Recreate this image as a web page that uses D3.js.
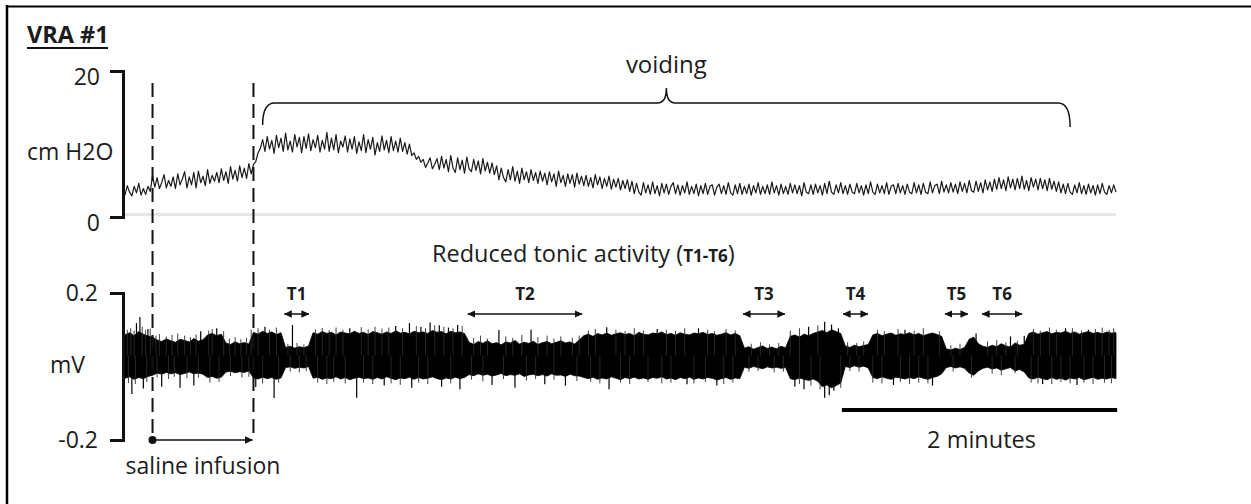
<!DOCTYPE html>
<html><head><meta charset="utf-8">
<script src="https://cdn.jsdelivr.net/npm/d3@7"></script>
<style>
html,body{margin:0;padding:0;background:#fff;}
svg{display:block;}
text{font-family:"Open Sans",sans-serif;fill:#1c1c1c;}
</style></head><body>
<svg id="chart" width="1251" height="504"></svg>
<script>
// ---------------- data ----------------
const pressureStep = 1; // seconds between pressure samples
const emgStep = 2;      // seconds between EMG envelope samples

// bladder pressure, cm H2O, one value per second (t = 0..432 s)
const pressureCmH2O = [
3.0, 4.3, 3.4, 2.9, 4.2, 3.3, 4.6, 3.0, 3.9, 3.1, 4.2, 3.5, 5.6, 4.1, 5.4, 3.9, 4.7, 5.8, 4.0, 5.0,
4.2, 5.5, 3.9, 5.9, 4.4, 5.2, 6.2, 4.0, 5.5, 4.4, 6.1, 4.0, 6.3, 4.7, 5.6, 4.3, 6.5, 4.6, 5.7, 4.9,
6.1, 4.7, 6.6, 5.0, 6.2, 4.6, 6.9, 5.2, 6.4, 4.9, 7.0, 5.4, 6.7, 5.3, 7.3, 5.9, 7.2, 7.6, 8.8, 9.4,
10.6, 9.0, 11.0, 9.3, 10.5, 8.7, 11.2, 9.5, 10.8, 9.0, 11.5, 9.2, 10.4, 8.9, 11.3, 9.6, 10.9, 8.8, 11.0, 9.4,
11.4, 9.1, 10.6, 9.5, 11.2, 8.9, 10.5, 9.3, 11.6, 9.0, 10.8, 9.2, 11.3, 8.8, 10.4, 9.6, 11.1, 8.9, 10.7, 9.3,
11.0, 8.7, 10.3, 9.1, 11.3, 8.8, 10.6, 9.3, 10.9, 8.5, 10.2, 9.0, 11.1, 9.2, 10.5, 8.8, 11.0, 9.1, 10.4, 8.9,
10.8, 9.0, 10.2, 8.6, 10.0, 8.4, 8.8, 7.9, 8.3, 7.5, 7.9, 6.8, 7.4, 8.1, 6.6, 7.2, 8.0, 6.5, 8.3, 6.7,
7.9, 6.2, 8.4, 6.7, 6.1, 8.1, 6.5, 7.8, 6.0, 8.2, 6.6, 6.2, 7.9, 6.4, 7.7, 5.9, 8.0, 6.3, 7.5, 6.0,
7.4, 5.8, 7.0, 5.1, 6.7, 5.4, 4.8, 6.5, 5.1, 6.9, 4.9, 6.3, 4.6, 6.7, 5.1, 6.2, 4.7, 6.5, 5.0, 6.1,
4.6, 6.3, 4.9, 6.0, 4.4, 6.2, 4.8, 5.9, 4.2, 6.3, 4.7, 5.7, 4.2, 5.9, 4.6, 5.8, 4.1, 6.0, 4.5, 5.6,
4.3, 5.7, 4.2, 5.4, 4.0, 5.8, 4.4, 5.5, 3.9, 5.3, 4.2, 5.6, 3.8, 5.2, 4.1, 5.3, 3.7, 5.0, 3.9, 5.1,
3.5, 4.9, 3.2, 4.6, 3.4, 3.0, 4.7, 3.3, 4.4, 3.1, 4.8, 3.2, 4.3, 2.9, 4.6, 3.3, 4.5, 3.1, 4.2, 4.7,
3.2, 4.4, 3.0, 4.3, 3.3, 4.8, 3.1, 4.2, 3.2, 4.5, 2.9, 4.3, 3.2, 4.6, 3.1, 4.2, 4.4, 3.0, 4.1, 4.5,
3.2, 4.3, 3.1, 4.7, 3.3, 3.0, 4.4, 3.2, 4.6, 3.1, 4.2, 3.2, 4.5, 3.0, 4.3, 3.3, 4.7, 3.1, 4.2, 3.2,
4.4, 3.1, 4.8, 3.3, 4.3, 3.0, 4.5, 3.2, 4.2, 3.1, 4.6, 3.3, 4.4, 3.2, 4.3, 2.9, 4.7, 3.4, 3.2, 4.4,
3.1, 4.5, 3.3, 4.3, 3.0, 4.6, 3.2, 4.9, 3.4, 3.1, 4.4, 3.3, 4.7, 3.2, 4.3, 3.1, 4.5, 3.4, 3.2, 4.6,
3.3, 4.3, 3.0, 4.4, 3.2, 4.8, 3.4, 3.1, 4.5, 3.3, 4.3, 3.2, 4.7, 3.1, 4.2, 4.4, 3.2, 4.6, 3.3, 4.3,
3.1, 4.5, 3.4, 3.2, 4.7, 3.3, 4.4, 3.1, 4.6, 3.4, 3.2, 4.8, 3.3, 4.3, 4.5, 3.2, 4.9, 3.4, 4.4, 3.3,
4.7, 3.4, 4.5, 3.2, 4.8, 3.5, 4.6, 3.3, 5.0, 3.6, 3.4, 4.9, 3.5, 4.7, 3.3, 5.1, 3.7, 4.8, 3.5, 5.2,
3.8, 5.4, 3.9, 5.1, 3.6, 5.5, 4.0, 5.2, 3.7, 5.3, 3.9, 5.6, 3.8, 5.0, 3.6, 5.4, 4.1, 5.2, 3.7, 5.3,
3.9, 5.1, 3.6, 5.3, 3.8, 4.9, 3.5, 4.8, 3.3, 4.5, 3.2, 4.6, 3.4, 3.1, 4.4, 3.3, 4.7, 3.2, 4.3, 3.1,
4.5, 3.3, 4.3, 3.0, 4.4, 3.2, 4.6, 3.4, 3.1, 4.3, 3.3, 4.4, 3.4
];

// EMG envelope, microvolts, one value every 2 s
const emgUpperUV = [
86, 92, 84, 95, 88, 83, 80,
72, 68, 75, 70, 66, 74, 71, 67, 76, 69, 73,
86, 90, 84, 88,
64, 60, 67, 62, 65, 61,
93, 88, 96, 90, 94, 87, 92,
52, 55, 50, 54, 51, 56,
92, 88, 95, 90, 93, 86, 94, 91, 89, 96, 90, 93, 87, 95, 92, 88, 94, 90, 97, 91, 93, 89, 96, 92, 94, 90, 98, 93, 95, 89, 96, 92, 94, 90,
66, 60, 68, 63, 70, 62, 65, 59, 67, 64, 71, 61, 66, 63, 69, 60, 65, 68, 62, 66, 70, 64, 67, 61, 72,
84, 88, 82, 90, 86, 91, 85, 89, 92, 87, 90, 84, 93, 88, 86, 91, 89, 94, 87, 90, 85, 92, 88, 86, 91, 89, 93, 87, 90, 85, 88, 92, 86, 90, 84,
50, 54, 47, 52, 56, 49, 53, 48, 55, 51,
82, 86, 80, 88, 84, 90, 94,
98, 92, 100, 95, 90,
56, 52, 58, 54, 57, 60,
86, 90, 84, 88, 91, 85, 89, 87, 92, 86, 90, 84, 88, 91, 87, 82,
48, 45, 50, 46, 52,
74, 80, 62,
55, 52, 58, 54, 62, 56, 53, 64, 58, 60,
90, 94, 88, 92, 95, 89, 93, 91, 96, 90, 94, 88, 92, 95, 90, 93, 89, 94, 91, 92
];
const emgLowerUV = [
-32, -28, -35, -30, -33, -27, -24,
-18, -21, -16, -20, -17, -22, -19, -15, -20, -18, -21,
-30, -27, -32, -29,
-15, -13, -17, -14, -16, -12,
-31, -34, -29, -33, -30, -35, -31,
-3, -1, -5, -2, -4, 0,
-32, -29, -35, -31, -33, -28, -34, -30, -36, -32, -29, -33, -31, -35, -30, -34, -28, -32, -36, -31, -33, -29, -35, -30, -34, -32, -28, -33, -36, -31, -34, -29, -33, -30,
-22, -25, -20, -24, -21, -26, -23, -19, -25, -22, -24, -20, -27, -23, -21, -25, -22, -26, -20, -24, -23, -27, -21, -25, -26,
-30, -33, -29, -35, -31, -34, -28, -32, -36, -30, -33, -29, -34, -31, -35, -30, -32, -28, -34, -31, -36, -30, -33, -29, -35, -31, -34, -30, -32, -37, -33, -30, -35, -31, -33,
-2, -5, 0, -3, -6, -1, -4, -2, -5, -3,
-33, -36, -31, -35, -38, -34, -40,
-55, -50, -58, -52, -45,
0, -3, 2, -2, 1, -4,
-30, -33, -28, -32, -35, -29, -31, -34, -30, -33, -28, -32, -35, -30, -27, -20,
-3, 0, -4, -1, -5,
-18, -24, -12,
-5, -2, -7, -4, -10, -6, -3, -12, -8, -15,
-31, -34, -29, -33, -36, -30, -35, -32, -37, -31, -34, -30, -36, -33, -29, -35, -32, -34, -30, -33
];
// large isolated EMG spikes: [time s, peak microvolts]
const emgSpikes = [
[5,118],[6.5,135],[10,102],[33,96],[40,104],[61,108],[73,113],[98,104],[118,110],[124,118],
[129,108],[133,120],[137,112],[141,106],[145,113],[163,99],[177,100],[210,107],[232,102],[250,104],
[298,108],[305,122],[308,114],[311,104],[340,100],[371,90],[386,82],[392,84],[410,104],[420,100],
[3,-75],[8,-60],[16,-55],[24,-58],[30,-52],[57,-56],[65,-86],[101,-85],[113,-52],[125,-58],
[138,-55],[146,-62],[160,-50],[170,-58],[183,-48],[192,-52],[211,-62],[245,-48],[258,-52],[292,-55],
[296,-62],[305,-85],[307,-78],[309,-66],[335,-50],[352,-52],[400,-48],[415,-50]
];
// small hair-like EMG excursions just beyond the envelope: [time s, microvolts]
const emgHairs = [
[1,100],[2.5,104],[4,98],[7.5,108],[9,99],[11,103],[13.5,84],[15,88],[18,82],[20.5,86],
[23,90],[26,84],[28.5,80],[31,87],[36.5,98],[38,102],[43,96],[45.5,76],[48,80],[50.5,74],
[53,78],[55,100],[58,104],[63,100],[66,106],[71,62],[75,64],[78,60],[83,101],[86,105],
[89,99],[92,106],[95,100],[103,107],[106,101],[109,108],[112,103],[115,106],[121,104],[127,110],
[131,104],[135,112],[139,108],[143,104],[147,110],[152,78],[155,84],[158,76],[166,82],[169,78],
[173,86],[180,80],[184,84],[187,76],[190,82],[195,78],[198,84],[202,98],[205,102],[214,100],
[218,96],[222,104],[226,98],[236,100],[240,97],[244,104],[254,100],[257,96],[262,102],[266,98],
[273,62],[277,66],[281,60],[285,64],[290,98],[294,104],[302,112],[315,66],[319,64],[322,68],
[328,100],[331,96],[337,102],[344,98],[348,104],[355,96],[360,58],[364,62],[376,68],[380,72],
[384,66],[389,70],[396,102],[399,98],[403,106],[406,100],[413,104],[417,98],[423,102],[426,106],
[429,100],[431,104],
[1.5,-45],[4.5,-48],[9.5,-42],[14,-30],[19,-34],[21.5,-28],[27,-32],[32,-30],[37,-44],[41,-42],
[46,-26],[51,-30],[54,-28],[60,-46],[67,-44],[72,-14],[76,-16],[79,-12],[84,-44],[88,-48],
[91,-42],[96,-46],[104,-44],[108,-48],[116,-46],[120,-50],[128,-44],[132,-48],[142,-46],[151,-36],
[156,-40],[165,-34],[175,-38],[179,-34],[187,-36],[197,-40],[203,-42],[207,-46],[216,-44],[220,-48],
[228,-42],[234,-46],[238,-44],[248,-46],[253,-42],[261,-48],[265,-44],[272,-14],[276,-12],[283,-16],
[287,-14],[294,-48],[299,-52],[303,-62],[312,-58],[316,-12],[320,-14],[326,-44],[330,-46],[338,-42],
[342,-48],[346,-44],[350,-46],[361,-14],[369,-30],[378,-20],[382,-24],[388,-18],[395,-44],[398,-46],
[404,-48],[408,-42],[412,-46],[418,-44],[422,-48],[427,-44],[430,-46]
];

const tonicLabels = ["T1", "T2", "T3", "T4", "T5", "T6"];
const tonicStart  = [69, 149, 269, 312.6, 357, 373.2];
const tonicEnd    = [80.6, 199.7, 288.1, 324.3, 367.9, 391.5];

const infusionStart = 12, infusionEnd = 56;
const voidingStart = 60, voidingEnd = 412;
const pressureTicks = [0, 20], pressureTickLabels = ["0", "20"];
const emgTicks = [-0.2, 0.2], emgTickLabels = ["-0.2", "0.2"];
const scaleBarStart = 312.5, scaleBarSeconds = 120;

// ---------------- drawing ----------------
const svg = d3.select("#chart");
const ink = "#111";
const tMax = (pressureCmH2O.length - 1) * pressureStep;
const x = d3.scaleLinear().domain([0, tMax]).range([125, 1116]);
const yP = d3.scaleLinear().domain([0, 20]).range([217, 71]);
const yE = d3.scaleLinear().domain([-0.2, 0.2]).range([440, 293]);

// frame
svg.append("line").attr("x1", 7).attr("x2", 7).attr("y1", 5).attr("y2", 504)
  .attr("stroke", "#000").attr("stroke-width", 2.5);
svg.append("line").attr("x1", 6).attr("x2", 1251).attr("y1", 6.5).attr("y2", 6.5)
  .attr("stroke", "#000").attr("stroke-width", 2);

// markers
const defs = svg.append("defs");
defs.append("marker").attr("id", "ah").attr("viewBox", "0 0 8 8")
  .attr("refX", 7.5).attr("refY", 4).attr("markerWidth", 8).attr("markerHeight", 8)
  .attr("markerUnits", "userSpaceOnUse").attr("orient", "auto-start-reverse")
  .append("path").attr("d", "M0,0.3L8,4L0,7.7Z").attr("fill", ink);

// title
svg.append("text").attr("x", 27).attr("y", 43).attr("font-weight", "bold")
  .attr("font-size", 23.5).text("VRA #1");
svg.append("line").attr("x1", 27).attr("x2", 108).attr("y1", 48).attr("y2", 48)
  .attr("stroke", ink).attr("stroke-width", 2);

// pressure zero line
svg.append("line").attr("x1", x(0)).attr("x2", x(tMax))
  .attr("y1", yP(0.35)).attr("y2", yP(0.35))
  .attr("stroke", "#e6e6e6").attr("stroke-width", 3);

// axes (brackets)
function bracket(scale, ticks, labels, pad, shift) {
  const g = svg.append("g").attr("transform", "translate(123,0)")
    .call(d3.axisLeft(scale).tickValues(ticks).tickSizeInner(13).tickSizeOuter(13)
      .tickPadding(pad).tickFormat((d, i) => labels[i]));
  g.select(".domain").attr("stroke", ink).attr("stroke-width", 3);
  g.selectAll(".tick line").attr("stroke", ink).attr("stroke-width", 3);
  g.selectAll(".tick text").attr("font-size", 23).attr("fill", "#1c1c1c")
    .attr("font-family", '"Open Sans",sans-serif')
    .attr("transform", `translate(0,${shift})`);
}
bracket(yP, pressureTicks, pressureTickLabels, 10, 6);
bracket(yE, emgTicks, emgTickLabels, 12, 0);

svg.append("text").attr("x", 27).attr("y", 160).attr("font-size", 23).text("cm H2O");
svg.append("text").attr("x", 50).attr("y", 373).attr("font-size", 23).text("mV");

// pressure trace
svg.append("path").datum(pressureCmH2O)
  .attr("d", d3.line().x((d, i) => x(i * pressureStep)).y(d => yP(d)))
  .attr("fill", "none").attr("stroke", "#1a1a1a").attr("stroke-width", 1.2)
  .attr("stroke-linejoin", "round");

// EMG band
svg.append("path").datum(emgUpperUV)
  .attr("d", d3.area().x((d, i) => x(i * emgStep))
    .y1(d => yE(d / 1000)).y0((d, i) => yE(emgLowerUV[i] / 1000)))
  .attr("fill", "#000").attr("stroke", "#000").attr("stroke-width", 0.8);
svg.append("g").selectAll("line").data(emgHairs).join("line")
  .attr("x1", d => x(d[0])).attr("x2", d => x(d[0]))
  .attr("y1", yE(0.03)).attr("y2", d => yE(d[1] / 1000))
  .attr("stroke", "#2a2a2a").attr("stroke-width", 0.9);
svg.append("g").selectAll("line").data(emgSpikes).join("line")
  .attr("x1", d => x(d[0])).attr("x2", d => x(d[0]))
  .attr("y1", yE(0.03)).attr("y2", d => yE(d[1] / 1000))
  .attr("stroke", "#000").attr("stroke-width", 1.2);

// dashed infusion lines
[infusionStart, infusionEnd].forEach(t => {
  svg.append("line").attr("x1", x(t)).attr("x2", x(t)).attr("y1", 83).attr("y2", yE(-0.2))
    .attr("stroke", ink).attr("stroke-width", 2).attr("stroke-dasharray", "14,7");
});
// saline infusion arrow
svg.append("line").attr("x1", x(infusionStart)).attr("x2", x(infusionEnd) - 1)
  .attr("y1", yE(-0.2)).attr("y2", yE(-0.2))
  .attr("stroke", ink).attr("stroke-width", 1.5).attr("marker-end", "url(#ah)");
svg.append("circle").attr("cx", x(infusionStart)).attr("cy", yE(-0.2)).attr("r", 4).attr("fill", ink);
svg.append("text").attr("x", (x(infusionStart) + x(infusionEnd)) / 2).attr("y", 474)
  .attr("text-anchor", "middle").attr("font-size", 23).text("saline infusion");

// voiding brace
{
  const x0 = x(voidingStart), x1 = x(voidingEnd), xm = (x0 + x1) / 2;
  const yb = 103, ye = 125, ya = 88;
  const d = `M${x0},${ye} Q${x0},${yb} ${x0 + 12},${yb} L${xm - 9},${yb} Q${xm},${yb} ${xm},${ya}` +
    ` Q${xm},${yb} ${xm + 9},${yb} L${x1 - 12},${yb} Q${x1},${yb} ${x1},${ye + 2}`;
  svg.append("path").attr("d", d).attr("fill", "none").attr("stroke", ink).attr("stroke-width", 1.5);
  svg.append("text").attr("x", xm).attr("y", 73).attr("text-anchor", "middle")
    .attr("font-size", 24).text("voiding");
}

// reduced tonic activity
const rt = svg.append("text").attr("x", 432).attr("y", 262).attr("font-size", 23.5);
rt.append("tspan").text("Reduced tonic activity (");
rt.append("tspan").attr("font-weight", "bold").attr("font-size", 17).text("T1-T6");
rt.append("tspan").text(")");

const tg = svg.append("g").selectAll("g").data(tonicLabels).join("g");
tg.append("text").attr("x", (d, i) => x((tonicStart[i] + tonicEnd[i]) / 2)).attr("y", 300)
  .attr("text-anchor", "middle").attr("font-weight", "bold").attr("font-size", 17).text(d => d);
tg.append("line").attr("x1", (d, i) => x(tonicStart[i]) + 1).attr("x2", (d, i) => x(tonicEnd[i]) - 1)
  .attr("y1", 314).attr("y2", 314).attr("stroke", ink).attr("stroke-width", 1.5)
  .attr("marker-start", "url(#ah)").attr("marker-end", "url(#ah)");

// time scale bar
svg.append("line").attr("x1", x(scaleBarStart)).attr("x2", x(scaleBarStart + scaleBarSeconds))
  .attr("y1", 410).attr("y2", 410).attr("stroke", "#000").attr("stroke-width", 4);
svg.append("text").attr("x", x(scaleBarStart + scaleBarSeconds / 2) + 2).attr("y", 448)
  .attr("text-anchor", "middle").attr("font-size", 23.5).text("2 minutes");
</script>
</body></html>
